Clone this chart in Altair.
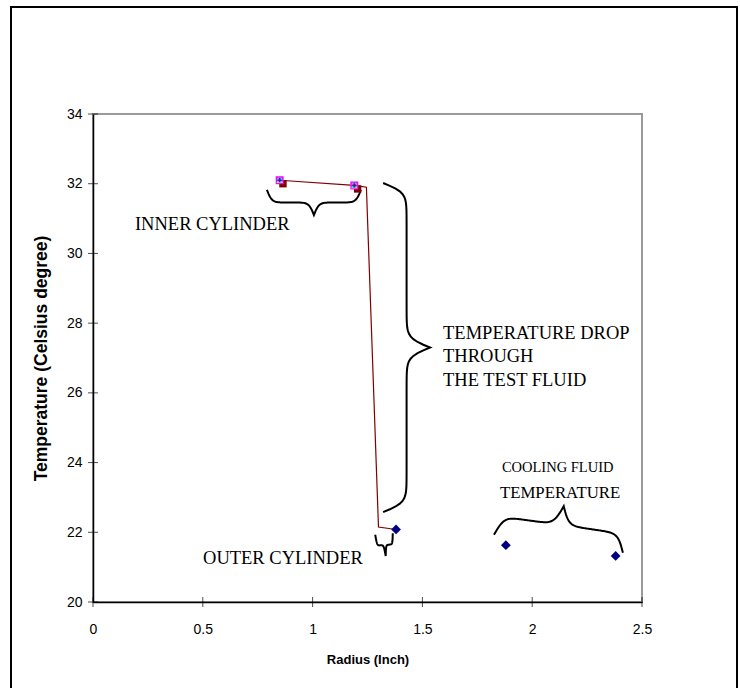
import numpy as np
import pandas as pd
import altair as alt

# ---- data ----
line_x = [0.85, 1.19, 1.245, 1.30, 1.38]
line_y = [32.10, 31.95, 31.90, 22.15, 22.08]

inner_x = [0.85, 1.19]
inner_y = [32.10, 31.95]
inner2_x = [0.865, 1.205]
inner2_y = [32.00, 31.85]

cool_x = [1.38, 1.88, 2.38]
cool_y = [22.08, 21.63, 21.32]

x_ticks = [0, 0.5, 1, 1.5, 2, 2.5]
y_ticks = [20, 22, 24, 26, 28, 30, 32, 34]

labels_text = ["INNER CYLINDER", "TEMPERATURE DROP", "THROUGH", "THE TEST FLUID",
               "COOLING FLUID", "TEMPERATURE", "OUTER CYLINDER"]
labels_x = [0.191, 1.594, 1.594, 1.594, 1.862, 1.853, 0.501]
labels_y = [30.84, 27.72, 27.06, 26.37, 23.84, 23.13, 21.26]
labels_size = [18.5, 18.5, 18.5, 18.5, 14.5, 16.8, 18.5]

# braces: start (x,y), end (x,y), depth in px, side, sharpness
brace_start = [(0.792, 31.82), (1.321, 32.02), (1.285, 21.93), (1.826, 21.93)]
brace_end = [(1.220, 31.82), (1.321, 22.58), (1.365, 21.97), (2.413, 21.41)]
brace_depth = [25, 47, 22, 38]
brace_side = [1, -1, 1, -1]
brace_sharp = [10, 10, 40, 10]

W, H = 549, 488
XMIN, XMAX, YMIN, YMAX = 0.0, 2.5, 20.0, 34.0
sx = W / (XMAX - XMIN)
sy = H / (YMAX - YMIN)


def brace(p1, p2, depth, side, sharp, n=60):
    x1, y1 = (p1[0] - XMIN) * sx, (YMAX - p1[1]) * sy
    x2, y2 = (p2[0] - XMIN) * sx, (YMAX - p2[1]) * sy
    L = np.hypot(x2 - x1, y2 - y1)
    ux, uy = (x2 - x1) / L, (y2 - y1) / L
    nx, ny = -uy * side, ux * side
    half = L / 2
    beta = sharp / depth
    t = np.linspace(0, half, n)
    v = 1 / (1 + np.exp(-beta * t)) + 1 / (1 + np.exp(-beta * (t - half))) - 0.5
    v = v - v[0]
    v = v / v[-1]
    tt = np.concatenate([t, L - t[::-1]])
    vv = np.concatenate([v, v[::-1]])
    px = x1 + ux * tt + nx * vv * depth
    py = y1 + uy * tt + ny * vv * depth
    return px / sx + XMIN, YMAX - py / sy


rows = []
for b in range(len(brace_start)):
    bx, by = brace(brace_start[b], brace_end[b], brace_depth[b], brace_side[b], brace_sharp[b])
    for i, (a, c) in enumerate(zip(bx, by)):
        rows.append({"b": b, "i": i, "x": a, "y": c})
brace_df = pd.DataFrame(rows)

line_df = pd.DataFrame({"x": line_x, "y": line_y, "i": range(len(line_x))})
inner_df = pd.DataFrame({"x": inner_x, "y": inner_y})
inner2_df = pd.DataFrame({"x": inner2_x, "y": inner2_y})
cool_df = pd.DataFrame({"x": cool_x, "y": cool_y})
lab_df = pd.DataFrame({"t": labels_text, "x": labels_x, "y": labels_y, "s": labels_size})
xt_df = pd.DataFrame({"x": x_ticks, "y": [YMIN] * len(x_ticks)})
yt_df = pd.DataFrame({"y": y_ticks, "x": [XMIN] * len(y_ticks)})

xs = alt.Scale(domain=[XMIN, XMAX], nice=False, zero=False)
ys = alt.Scale(domain=[YMIN, YMAX], nice=False, zero=False)

X = alt.X("x:Q", scale=xs, axis=alt.Axis(values=x_ticks, title="Radius (Inch)", ticks=False,
                                         grid=False, labelPadding=20, titlePadding=17,
                                         labelFlush=False, format="~g", titleFontSize=13))
Y = alt.Y("y:Q", scale=ys, axis=alt.Axis(values=y_ticks, title="Temperature (Celsius degree)",
                                         ticks=False, grid=False, labelPadding=11,
                                         labelFlush=False, titlePadding=16, titleFontSize=17.5))

frame = alt.Chart(pd.DataFrame({"a": [0]})).mark_rect(
    fill=None, stroke="black", strokeWidth=2, clip=False
).encode(x=alt.value(-82), x2=alt.value(644), y=alt.value(-107), y2=alt.value(600))

base_line = alt.Chart(line_df).mark_line(color="#800000", strokeWidth=1.2).encode(
    x=X, y=Y, order="i:Q")

braces = alt.Chart(brace_df).mark_line(color="black", strokeWidth=2, clip=False).encode(
    x="x:Q", y="y:Q", detail="b:N", order="i:Q")

xt = alt.Chart(xt_df).mark_tick(color="black", orient="vertical", size=10, thickness=1).encode(
    x="x:Q", y="y:Q")
yt = alt.Chart(yt_df).mark_tick(color="black", orient="horizontal", size=10, thickness=1).encode(
    x="x:Q", y="y:Q")

sq2 = alt.Chart(inner2_df).mark_point(shape="square", filled=True, color="#800000", size=55, opacity=1).encode(
    x="x:Q", y="y:Q")
sq = alt.Chart(inner_df).mark_point(shape="square", filled=True, color="#FF00FF", size=64, opacity=1).encode(
    x="x:Q", y="y:Q")
tri = alt.Chart(inner_df).mark_point(shape="triangle-up", filled=True, color="#FFFF00", size=40, opacity=1).encode(
    x="x:Q", y="y:Q")
cross = alt.Chart(inner_df).mark_point(shape="cross", filled=True, color="#00FFFF", size=35, angle=45, opacity=1).encode(
    x="x:Q", y="y:Q")
star = alt.Chart(inner_df).mark_point(shape="cross", filled=True, color="#800080", size=18, opacity=1).encode(
    x="x:Q", y="y:Q")

dia = alt.Chart(cool_df).mark_point(shape="diamond", filled=True, color="#000080", size=95, opacity=1).encode(
    x="x:Q", y="y:Q")

texts = alt.Chart(lab_df).mark_text(align="left", baseline="middle", font="Liberation Serif",
                                    color="black", clip=False).encode(
    x="x:Q", y="y:Q", text="t:N", size=alt.Size("s:Q", scale=None, legend=None))

chart = alt.layer(
    frame, base_line, braces, xt, yt, sq2, sq, tri, cross, star, dia, texts
).properties(
    width=W, height=H,
    padding={"left": 93, "top": 114, "right": 98, "bottom": 86},
    autosize=alt.AutoSizeParams(type="none"),
    background="white",
).configure_view(
    stroke="#9a9a9a", strokeWidth=2
).configure_axis(
    domainColor="black", domainWidth=1.5,
    labelFont="Liberation Sans", labelFontSize=14, labelColor="black",
    titleFont="Liberation Sans", titleFontWeight="bold", titleColor="black",
)

chart.save("out.html", embed_options={"renderer": "svg", "actions": False})
